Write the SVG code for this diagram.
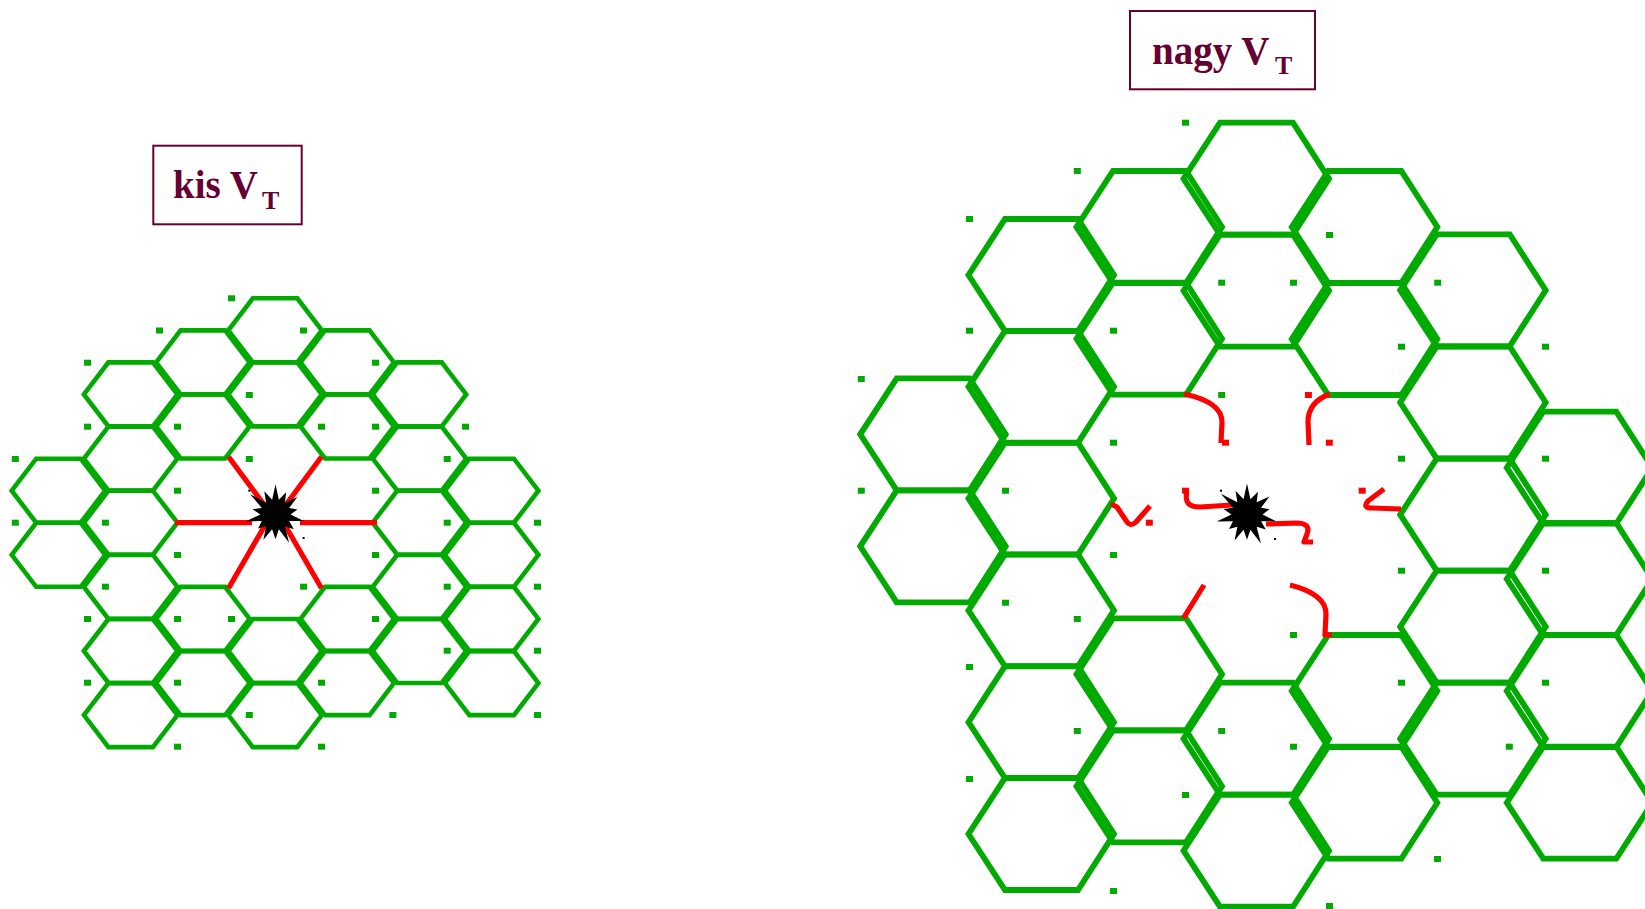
<svg xmlns="http://www.w3.org/2000/svg" xmlns:xlink="http://www.w3.org/1999/xlink" width="1645" height="909" viewBox="0 0 1645 909">
<style>
.hl{fill:none;stroke:#00AA00;stroke-width:4.6;stroke-linejoin:miter}
.hr{fill:none;stroke:#00AA00;stroke-width:5.8;stroke-linejoin:miter}
.g{fill:#00AA00}
.r{fill:#FF0000}
.rl{fill:none;stroke:#FF0000;stroke-width:5.2;stroke-linejoin:round}
.box{fill:none;stroke:#660033;stroke-width:2}
.lbl{font-family:"Liberation Serif","Times New Roman",serif;font-weight:bold;fill:#660033}
</style>
<defs>
<path id="hL" d="M0,32 L24.5,0 L69,0 L93.5,32 L69,64 L24.5,64 Z"/>
<path id="hR" d="M0,0 L73,0 L109,56 L73,112 L0,112 L-36.5,56 Z"/>
<rect id="d" x="-3.5" y="-3" width="7" height="6"/>
<polygon id="star" points="0,-27 3,-13.2 9.5,-19.8 8.4,-10.6 19.5,-15.6 12.2,-5.9 19.5,-4.5 13.5,0 25.3,5.8 12.2,5.9 16.4,13.1 8.4,10.6 12.1,25.2 3,13.2 0,22 -3,13.2 -10.8,22.5 -8.4,10.6 -15.6,12.5 -12.2,5.9 -26.3,6 -13.5,0 -20.5,-4.7 -12.2,-5.9 -22.7,-18.1 -8.4,-10.6 -10,-20.7 -3,-13.2"/>
</defs>

<g id="label-kis">
<rect class="box" x="153.3" y="145.7" width="148.4" height="78.6"/>
<text class="lbl" x="173" y="198" font-size="39">kis V</text>
<text class="lbl" x="262" y="209" font-size="26">T</text>
</g>
<g id="label-nagy">
<rect class="box" x="1130" y="11" width="185" height="78.3"/>
<text class="lbl" x="1152" y="64" font-size="39">nagy V</text>
<text class="lbl" x="1275" y="74" font-size="26">T</text>
</g>

<g id="grid-small" class="hl">
<use href="#hL" x="11.7" y="458.7"/><use href="#hL" x="11.7" y="522.8"/>
<use href="#hL" x="83.9" y="362.4"/><use href="#hL" x="83.9" y="426.6"/><use href="#hL" x="83.9" y="490.7"/><use href="#hL" x="83.9" y="554.9"/><use href="#hL" x="83.9" y="619"/><use href="#hL" x="83.9" y="683.1"/>
<use href="#hL" x="156.1" y="330.4"/><use href="#hL" x="156.1" y="394.5"/><use href="#hL" x="156.1" y="586.9"/><use href="#hL" x="156.1" y="651.1"/>
<use href="#hL" x="228.3" y="298.3"/><use href="#hL" x="228.3" y="362.4"/><use href="#hL" x="228.3" y="619"/><use href="#hL" x="228.3" y="683.1"/>
<use href="#hL" x="300.5" y="330.4"/><use href="#hL" x="300.5" y="394.5"/><use href="#hL" x="300.5" y="586.9"/><use href="#hL" x="300.5" y="651.1"/>
<use href="#hL" x="372.7" y="362.4"/><use href="#hL" x="372.7" y="426.6"/><use href="#hL" x="372.7" y="490.7"/><use href="#hL" x="372.7" y="554.9"/><use href="#hL" x="372.7" y="619"/>
<use href="#hL" x="444.9" y="458.7"/><use href="#hL" x="444.9" y="522.8"/><use href="#hL" x="444.9" y="586.9"/><use href="#hL" x="444.9" y="651.1"/>
</g>
<g id="dots-small" class="g">
<use href="#d" x="231.5" y="298.3"/><use href="#d" x="159.5" y="330.5"/><use href="#d" x="303.5" y="330.5"/><use href="#d" x="87.5" y="362.7"/><use href="#d" x="375.5" y="362.7"/><use href="#d" x="249.3" y="395"/>
<use href="#d" x="87.5" y="426.7"/><use href="#d" x="177.5" y="426.7"/><use href="#d" x="321.5" y="426.7"/><use href="#d" x="375.5" y="426.7"/><use href="#d" x="465.5" y="426.7"/>
<use href="#d" x="15.3" y="459"/><use href="#d" x="249.3" y="459"/><use href="#d" x="447.2" y="459"/><use href="#d" x="177.5" y="490.7"/><use href="#d" x="375.5" y="490.7"/>
<use href="#d" x="15.3" y="522.7"/><use href="#d" x="105.4" y="522.7"/><use href="#d" x="447.2" y="522.7"/><use href="#d" x="537.5" y="522.7"/>
<use href="#d" x="177.5" y="555"/><use href="#d" x="375.5" y="555"/><use href="#d" x="105.4" y="586.7"/><use href="#d" x="303.6" y="586.7"/><use href="#d" x="447.2" y="586.7"/><use href="#d" x="537.5" y="586.7"/>
<use href="#d" x="87.5" y="619"/><use href="#d" x="177.5" y="619"/><use href="#d" x="231.5" y="619"/><use href="#d" x="375.5" y="619"/><use href="#d" x="447.2" y="650.7"/><use href="#d" x="537.5" y="650.7"/>
<use href="#d" x="87.5" y="682.7"/><use href="#d" x="177.5" y="682.7"/><use href="#d" x="321.5" y="682.7"/><use href="#d" x="249.3" y="715"/><use href="#d" x="392.9" y="715"/><use href="#d" x="537.5" y="715"/>
<use href="#d" x="177.5" y="746.7"/><use href="#d" x="321.5" y="746.7"/>
</g>
<g id="connectors-small" class="rl">
<path d="M175,522.7 L252,522.7"/>
<path d="M300,522.7 L377,522.7"/>
<path d="M228.5,456.7 L268,510"/>
<path d="M321.5,456.7 L282,510"/>
<path d="M228.5,588.3 L268,520"/>
<path d="M321.5,588.3 L282,520"/>
</g>
<g id="star-small">
<use href="#star" transform="translate(275.5,514.5) scale(1.12)"/>
<rect x="248.3" y="489.7" width="2" height="2"/>
<rect x="302.6" y="537" width="2" height="2"/>
</g>

<g id="grid-large" class="hr">
<use href="#hR" x="896.7" y="378.3"/><use href="#hR" x="896.7" y="490.3"/>
<use href="#hR" x="1005" y="219"/><use href="#hR" x="1005" y="330.8"/><use href="#hR" x="1005" y="442.6"/><use href="#hR" x="1005" y="554.4"/><use href="#hR" x="1005" y="666.2"/><use href="#hR" x="1005" y="778"/>
<use href="#hR" x="1113" y="171"/><use href="#hR" x="1113" y="282.7"/><use href="#hR" x="1113" y="618.3"/><use href="#hR" x="1113" y="730.3"/>
<use href="#hR" x="1220" y="122.7"/><use href="#hR" x="1220" y="234.7"/><use href="#hR" x="1220" y="682.7"/><use href="#hR" x="1220" y="794.7"/>
<use href="#hR" x="1328.3" y="171"/><use href="#hR" x="1328.3" y="283"/><use href="#hR" x="1328.3" y="635"/><use href="#hR" x="1328.3" y="746.7"/>
<use href="#hR" x="1436.7" y="234.3"/><use href="#hR" x="1436.7" y="346.5"/><use href="#hR" x="1436.7" y="458.7"/><use href="#hR" x="1436.7" y="570.7"/><use href="#hR" x="1436.7" y="682.7"/>
<use href="#hR" x="1543.3" y="411.7"/><use href="#hR" x="1543.3" y="523"/><use href="#hR" x="1543.3" y="635"/><use href="#hR" x="1543.3" y="746.7"/>
</g>
<g id="dots-large" class="g">
<use href="#d" x="1185.5" y="122.7"/><use href="#d" x="1077.3" y="171"/><use href="#d" x="969.5" y="219"/><use href="#d" x="1329.5" y="235"/><use href="#d" x="1221.7" y="282.7"/><use href="#d" x="1293.5" y="282.7"/><use href="#d" x="1437.7" y="282.7"/>
<use href="#d" x="969.5" y="330.7"/><use href="#d" x="1113.5" y="330.7"/><use href="#d" x="1401.5" y="346.7"/><use href="#d" x="1545.5" y="346.7"/><use href="#d" x="861.3" y="379"/><use href="#d" x="1221.7" y="395"/>
<use href="#d" x="1113.5" y="442.7"/><use href="#d" x="1401.5" y="458.7"/><use href="#d" x="1545.5" y="458.7"/><use href="#d" x="861.3" y="490.7"/><use href="#d" x="1005.5" y="490.7"/>
<use href="#d" x="1113.5" y="555"/><use href="#d" x="1401.5" y="570.7"/><use href="#d" x="1545.5" y="570.7"/><use href="#d" x="1005.5" y="602.7"/><use href="#d" x="1077.3" y="619"/><use href="#d" x="1293.5" y="635"/>
<use href="#d" x="969.5" y="667"/><use href="#d" x="1401.5" y="682.7"/><use href="#d" x="1545.5" y="682.7"/><use href="#d" x="1077.3" y="731"/><use href="#d" x="1221.7" y="731"/><use href="#d" x="1293.5" y="746.7"/><use href="#d" x="1509.3" y="746.7"/>
<use href="#d" x="969.5" y="779"/><use href="#d" x="1185.5" y="795"/><use href="#d" x="1437.5" y="859"/><use href="#d" x="1113.5" y="891"/><use href="#d" x="1329.5" y="906"/>
</g>
<g id="connectors-large">
<g class="rl">
<path d="M1184,394 Q1222,402 1222,422 L1221,443"/>
<path d="M1330,394 Q1308,402 1308,422 L1309,445"/>
<path d="M1111,504 L1117,507 L1127,522 Q1131,527 1136,522 L1150,506"/>
<path d="M1187,492 Q1183,507 1200,507 L1232,505"/>
<path d="M1266,524 L1298,523 Q1311,524 1307,534 L1304,542 L1313,542"/>
<path d="M1384,489 L1368,501 Q1362,508 1372,508 L1401,509"/>
<path d="M1183.3,618.3 L1204,585"/>
<path d="M1290,585 Q1326,594 1326,614 L1325,635 L1332,635"/>
</g>
<g class="r">
<use href="#d" x="1225.5" y="442.7"/>
<use href="#d" x="1308.4" y="395"/><use href="#d" x="1329.3" y="442.7"/>
<use href="#d" x="1149.3" y="522.7"/><use href="#d" x="1185.5" y="490.7"/><use href="#d" x="1362.2" y="490.7"/>
</g>
</g>
<g id="star-large">
<use href="#star" transform="translate(1247,514.5) scale(1.15)"/>
<rect x="1220" y="489.7" width="2" height="2"/>
<rect x="1274" y="538" width="2" height="2"/>
</g>
</svg>
